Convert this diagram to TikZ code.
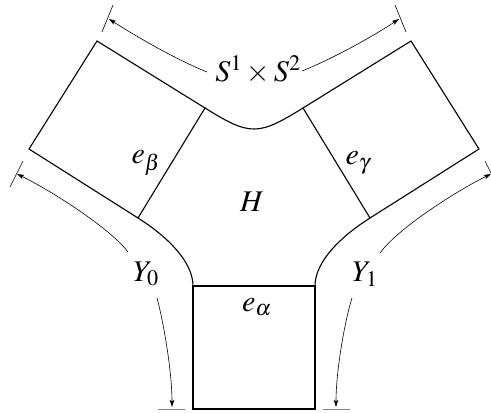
\documentclass[tikz,border=0pt]{standalone}
\usepackage{mathptmx}
\usetikzlibrary{arrows.meta}
\begin{document}
\begin{tikzpicture}[x=1pt,y=-1pt,
  edge/.style={line width=1.1pt},
  arr/.style={line width=0.6pt,-{Stealth[length=7pt,width=4.5pt,inset=1.5pt]}},
  tickmark/.style={line width=0.6pt},
  bar/.style={line width=1pt,gray},
  lab/.style={font=\fontsize{30}{34}\selectfont,inner sep=0pt}]
\useasboundingbox (0,0) rectangle (491,413);
% left square
\coordinate (LT) at (97,41); \coordinate (LR) at (205,108);
\coordinate (LB) at (138,218); \coordinate (LL) at (29,149);
\draw[edge] (LT) -- (LR) -- (LB) -- (LL) -- cycle;
% right square
\coordinate (RT) at (411,41); \coordinate (RL) at (303,108);
\coordinate (RB) at (370,218); \coordinate (RR) at (479,149);
\draw[edge] (RT) -- (RL) -- (RB) -- (RR) -- cycle;
% bottom square
\coordinate (BTL) at (193,286); \coordinate (BTR) at (315,286);
\coordinate (BBR) at (315,409); \coordinate (BBL) at (193,409);
\draw[edge] (BTL) -- (BTR) -- (BBR) -- (BBL) -- cycle;
% curved boundaries of H
\draw[edge] (LR) .. controls (250,136) and (258,136) .. (RL);
\draw[edge] (LB) .. controls (168,237) and (193,262) .. (BTL);
\draw[edge] (RB) .. controls (340,237) and (315,262) .. (BTR);
% labels
\node[lab] (H) at (252,202) {$H$};
\node[lab] (eb) at (146,163) {$e_\beta$};
\node[lab] (eg) at (358,163) {$e_\gamma$};
\node[lab] (ea) at (257,307) {$e_\alpha$};
\node[lab] (Y0) at (146,274) {$Y_0$};
\node[lab] (Y1) at (365,274) {$Y_1$};
\node[lab] (S) at (258,70) {$S^1\times S^2$};
% arrow end points
\coordinate (s1) at (207,72); \coordinate (t1) at (109,19);
\coordinate (s2) at (302,71); \coordinate (t2) at (399,19);
\coordinate (s3) at (128,252); \coordinate (t3) at (17,174);
\coordinate (s4) at (380,253); \coordinate (t4) at (491,174);
\coordinate (s5) at (157,298); \coordinate (t5) at (172,407);
\coordinate (s6) at (352,298); \coordinate (t6) at (336,407);
% arrows
\draw[arr] (s1) .. controls (177,60) and (137,37) .. (t1);
\draw[tickmark] (113,5) -- (102,32);
\draw[arr] (s2) .. controls (332,59) and (372,37) .. (t2);
\draw[tickmark] (395,5) -- (406,32);
\draw[arr] (s3) .. controls (110,228) and (50,190) .. (t3);
\draw[tickmark] (23,161) -- (10,187);
\draw[arr] (s4) .. controls (398,228) and (458,190) .. (t4);
\draw[tickmark] (485,161) -- (498,187);
\draw[arr] (s5) .. controls (163,320) and (172,370) .. (t5);
\draw[bar] (158,409) -- (185,409);
\draw[arr] (s6) .. controls (345,320) and (336,370) .. (t6);
\draw[bar] (323,409) -- (350,409);
\end{tikzpicture}
\end{document}
